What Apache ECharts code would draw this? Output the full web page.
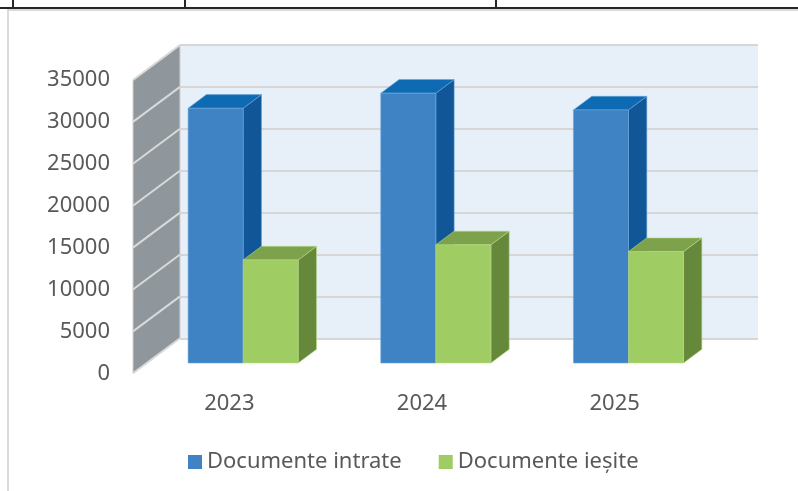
<!DOCTYPE html>
<html>
<head>
<meta charset="utf-8">
<style>
html,body{margin:0;padding:0;background:#fff;}
#chart{width:798px;height:491px;}
</style>
<script src="https://cdn.jsdelivr.net/npm/echarts@6/dist/echarts.min.js"></script>
</head>
<body>
<div id="chart"></div>
<script>
// ---- data ----
const categories = ['2023', '2024', '2025'];
const seriesNames = ['Documente intrate', 'Documente ieșite'];
const intrate = [30400, 32200, 30200];
const iesite = [12300, 14100, 13300];
const yTicks = [0, 5000, 10000, 15000, 20000, 25000, 30000, 35000];
const Y_MIN = 0, Y_MAX = 35000, Y_STEP = 5000;

// ---- layout / style ----
const FRONT = {left: 133, top: 80, width: 578, height: 293.3};
const BACK = {left: 180, top: 45, width: 578, height: 293.3};
const DX = BACK.left - FRONT.left;   // depth offset x
const DY = BACK.top - FRONT.top;     // depth offset y
const F0 = 0.294, F1 = 0.684;        // bar depth position (fractions of total depth)
const GAP = 1.5;                     // gap width ratio
const colors = [
  {front: '#3f83c4', top: '#0f6ab4', side: '#115797', edge: '#6aa6dc'},
  {front: '#9fcc63', top: '#7da24b', side: '#66883b', edge: '#b5da85'}
];
const FONT = '"Noto Sans", "Liberation Sans", Arial, sans-serif';
const TXT = '#595959';

const chart = echarts.init(document.getElementById('chart'), null, {renderer: 'canvas'});

function barRender(k) {
  return function (params, api) {
    const ci = api.value(0), v = api.value(1);
    const base = api.coord([ci, 0]);
    const top = api.coord([ci, v]);
    const band = api.size([1, 0])[0];
    const bw = band / (2 + GAP);
    const x0 = base[0] - bw + k * bw + DX * F0;
    const yb = base[1] + DY * F0;
    const yt = top[1] + DY * F0;
    const dx = DX * (F1 - F0), dy = DY * (F1 - F0);
    const c = colors[k];
    return {
      type: 'group',
      children: [
        {type: 'polygon', shape: {points: [[x0 + bw, yt], [x0 + bw, yb], [x0 + bw + dx, yb + dy], [x0 + bw + dx, yt + dy]]},
          style: {fill: c.side, stroke: c.edge, lineWidth: 0.6}},
        {type: 'polygon', shape: {points: [[x0, yt], [x0 + bw, yt], [x0 + bw + dx, yt + dy], [x0 + dx, yt + dy]]},
          style: {fill: c.top, stroke: c.edge, lineWidth: 0.6}},
        {type: 'rect', shape: {x: x0, y: yt, width: bw, height: yb - yt},
          style: {fill: c.front, stroke: c.edge, lineWidth: 0.6}}
      ]
    };
  };
}

const option = {
  backgroundColor: '#ffffff',
  animation: false,
  textStyle: {fontFamily: FONT},
  grid: [
    {left: BACK.left, top: BACK.top, width: BACK.width, height: BACK.height,
      show: true, backgroundColor: '#e7f0f9', borderWidth: 0, containLabel: false},
    {left: FRONT.left, top: FRONT.top, width: FRONT.width, height: FRONT.height, containLabel: false}
  ],
  xAxis: [
    {type: 'category', gridIndex: 0, data: categories, show: false},
    {type: 'category', gridIndex: 1, data: categories,
      axisLine: {show: false}, axisTick: {show: false},
      axisLabel: {color: TXT, fontSize: 22, fontFamily: FONT, margin: 19}}
  ],
  yAxis: [
    {type: 'value', gridIndex: 0, min: Y_MIN, max: Y_MAX, interval: Y_STEP,
      axisLine: {show: false}, axisTick: {show: false}, axisLabel: {show: false},
      splitLine: {show: true, lineStyle: {color: '#d6d6d6', width: 2}}},
    {type: 'value', gridIndex: 1, min: Y_MIN, max: Y_MAX, interval: Y_STEP,
      axisLine: {show: false}, axisTick: {show: false}, splitLine: {show: false},
      axisLabel: {color: TXT, fontSize: 22, fontFamily: FONT, margin: 23,
        formatter: function (v) { return String(v); }}}
  ],
  legend: {
    data: seriesNames,
    left: 188, top: 451, padding: 0,
    icon: 'rect', itemWidth: 14, itemHeight: 14, itemGap: 37,
    textStyle: {color: TXT, fontSize: 22, fontFamily: FONT}
  },
  graphic: [
    {type: 'rect', shape: {x: 8, y: 10, width: 820, height: 520}, style: {fill: 'none', stroke: '#dadada', lineWidth: 2}, z: 0},
    {type: 'line', shape: {x1: 0, y1: 8, x2: 798, y2: 8}, style: {stroke: '#262626', lineWidth: 2}},
    {type: 'line', shape: {x1: 13, y1: 0, x2: 13, y2: 8}, style: {stroke: '#262626', lineWidth: 2}},
    {type: 'line', shape: {x1: 185, y1: 0, x2: 185, y2: 8}, style: {stroke: '#262626', lineWidth: 2}},
    {type: 'line', shape: {x1: 496, y1: 0, x2: 496, y2: 8}, style: {stroke: '#262626', lineWidth: 2}}
  ],
  series: [
    { // side wall
      type: 'custom', xAxisIndex: 1, yAxisIndex: 1, silent: true,
      data: [[0, Y_MAX]],
      renderItem: function (params, api) {
        const cs = params.coordSys;
        const x = cs.x;
        const yTop = api.coord([0, api.value(1)])[1];
        const yBot = api.coord([0, Y_MIN])[1];
        return {type: 'polygon', shape: {points: [[x, yBot], [x + DX, yBot + DY], [x + DX, yTop + DY], [x, yTop]]},
          style: {fill: '#8f979c', stroke: '#d0d0d0', lineWidth: 1}};
      }
    },
    { // side wall grid lines
      type: 'custom', xAxisIndex: 1, yAxisIndex: 1, silent: true,
      data: yTicks.map(function (t) { return [0, t]; }),
      renderItem: function (params, api) {
        const x = params.coordSys.x;
        const y = api.coord([0, api.value(1)])[1];
        return {type: 'line', shape: {x1: x, y1: y, x2: x + DX, y2: y + DY},
          style: {stroke: '#d9d9d9', lineWidth: 2}};
      }
    },
    {
      name: seriesNames[0], type: 'custom', xAxisIndex: 1, yAxisIndex: 1,
      itemStyle: {color: colors[0].front},
      data: intrate.map(function (v, i) { return [i, v]; }),
      renderItem: barRender(0)
    },
    {
      name: seriesNames[1], type: 'custom', xAxisIndex: 1, yAxisIndex: 1,
      itemStyle: {color: colors[1].front},
      data: iesite.map(function (v, i) { return [i, v]; }),
      renderItem: barRender(1)
    }
  ]
};
chart.setOption(option);
</script>
</body>
</html>
